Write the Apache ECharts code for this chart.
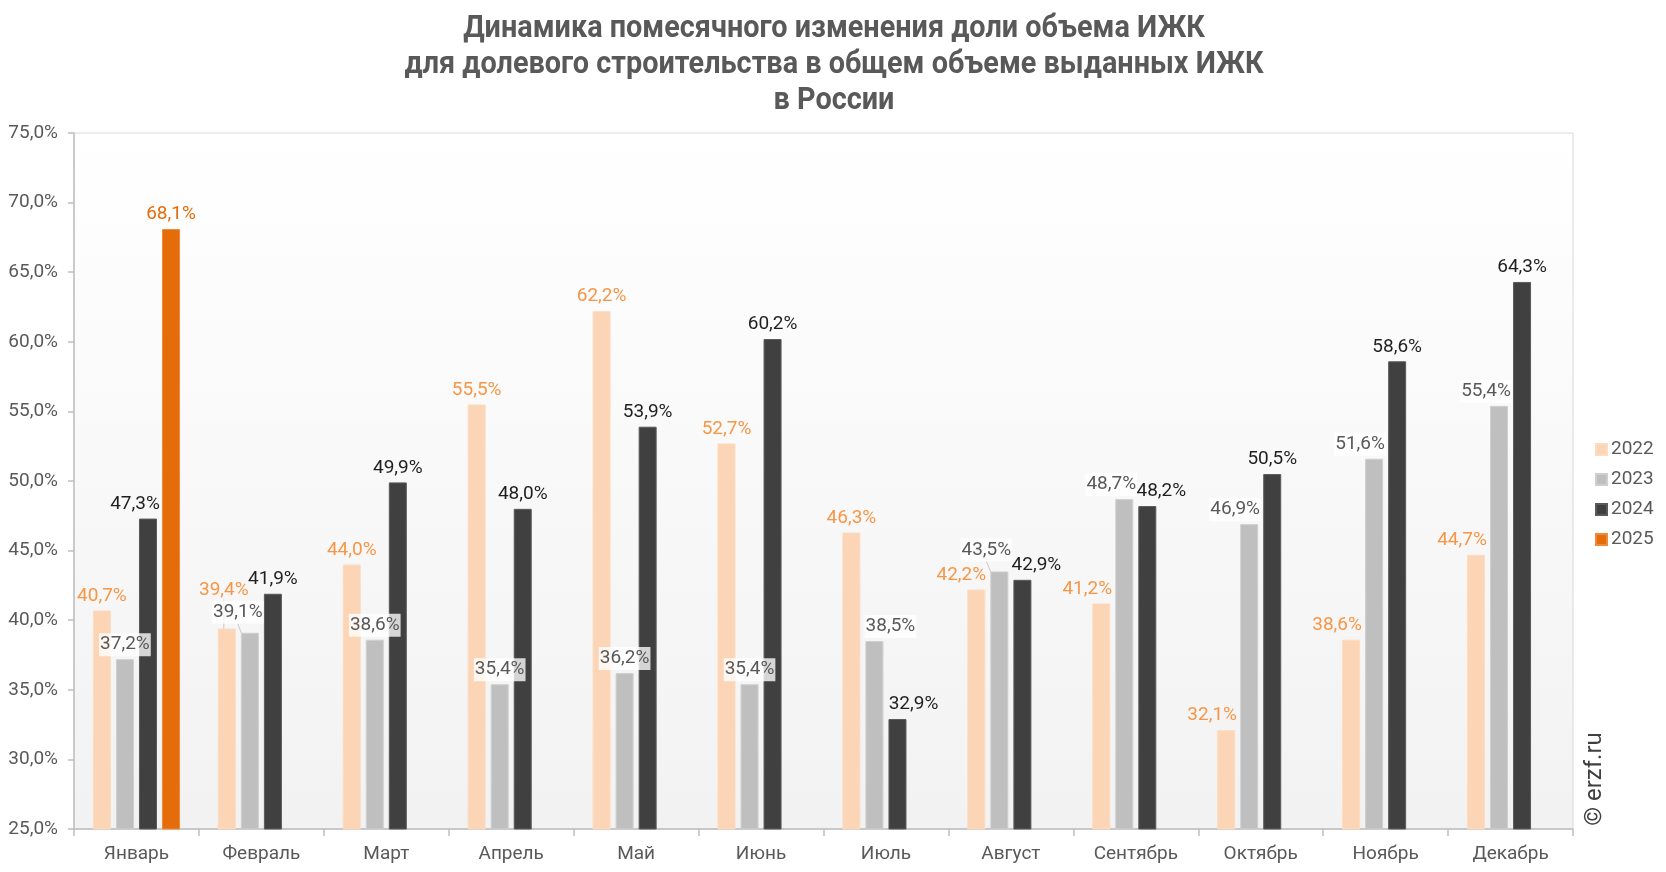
<!DOCTYPE html>
<html>
<head>
<meta charset="utf-8">
<script src="https://cdn.jsdelivr.net/npm/echarts@6/dist/echarts.min.js"></script>
<style>
html,body{margin:0;padding:0;background:#fff;}
#chart{width:1666px;height:872px;}
</style>
</head>
<body>
<div id="chart"></div>
<script>
// ---- data ----
const titleLines = ['Динамика помесячного изменения доли объема ИЖК', 'для долевого строительства в общем объеме выданных ИЖК', 'в России'];
const months = ['Январь','Февраль','Март','Апрель','Май','Июнь','Июль','Август','Сентябрь','Октябрь','Ноябрь','Декабрь'];
const seriesNames = ['2022','2023','2024','2025'];
const v2022 = [40.7, 39.4, 44.0, 55.5, 62.2, 52.7, 46.3, 42.2, 41.2, 32.1, 38.6, 44.7];
const v2023 = [37.2, 39.1, 38.6, 35.4, 36.2, 35.4, 38.5, 43.5, 48.7, 46.9, 51.6, 55.4];
const v2024 = [47.3, 41.9, 49.9, 48.0, 53.9, 60.2, 32.9, 42.9, 48.2, 50.5, 58.6, 64.3];
const v2025 = [68.1, null, null, null, null, null, null, null, null, null, null, null];
const yTicks = {min: 25, max: 75, interval: 5};

// ---- label placement (styling only) ----
const shiftX = [
  [0,0,0,0,0,0,0,-15,-14,-14,-14,-14],
  [0,0,0,0,0,0,16,0,-13,-14,-14,-13],
  [-13,0,0,0,0,0,16,14,14,0,0,0],
  [0,0,0,0,0,0,0,0,0,0,0,0]
];
const leaderMoves = {'0-1': [-3,-24], '1-1': [-12,-6], '1-7': [-13,-7]};

const barColors = ['#FBD5B5','#BFBFBF','#404040','#E46C0A'];
const borderColors = ['#FCDCC2','#CFCFCF','#5A5A5A','#F08A3A'];
const labelColors = ['#F79646','#595959','#1F1F1F','#E46C0A'];

const fmt = v => v.toFixed(1).replace('.', ',') + '%';
const allValues = [v2022, v2023, v2024, v2025];

const series = allValues.map((vals, si) => ({
  name: seriesNames[si],
  type: 'bar',
  barWidth: 18,
  barGap: '28%',
  itemStyle: {color: barColors[si], borderColor: borderColors[si], borderWidth: 1},
  label: {
    show: true,
    position: 'top',
    distance: si === 1 ? 3 : 5,
    formatter: p => fmt(p.value),
    color: labelColors[si],
    fontFamily: 'Roboto',
    fontSize: 19,
    backgroundColor: si === 1 ? 'rgba(255,255,255,0.78)' : 'transparent',
    padding: si === 1 ? [2,1] : 0
  },
  labelLine: {show: false, lineStyle: {color: '#C8C8C8', width: 1}},
  labelLayout: p => {
    const m = leaderMoves[si + '-' + p.dataIndex] || [0, 0];
    return {dx: shiftX[si][p.dataIndex] + m[0], dy: m[1]};
  },
  data: vals.map((v, i) => v == null ? null : ({
    value: v,
    labelLine: {show: !!leaderMoves[si + '-' + i]}
  })),
  animation: false
}));

const chart = echarts.init(document.getElementById('chart'), null, {renderer: 'canvas'});
chart.setOption({
  animation: false,
  legend: {
    orient: 'vertical',
    left: 1590,
    top: 435,
    itemWidth: 11,
    itemHeight: 11,
    itemGap: 11,
    icon: 'rect',
    data: seriesNames,
    textStyle: {fontFamily: 'Roboto', fontSize: 19, color: '#595959', padding: [0,0,0,-1]}
  },
  grid: {
    left: 74, right: 93, top: 133, bottom: 43,
    show: true,
    borderColor: '#D9D9D9',
    borderWidth: 1,
    backgroundColor: {type: 'linear', x: 0, y: 0, x2: 0, y2: 1,
      colorStops: [{offset: 0, color: '#FFFFFF'}, {offset: 1, color: '#F2F2F2'}]}
  },
  xAxis: {
    type: 'category',
    data: months,
    axisLine: {lineStyle: {color: '#BFBFBF', width: 1.5}},
    axisTick: {show: true, length: 7, lineStyle: {color: '#BFBFBF', width: 1.5}},
    axisLabel: {fontFamily: 'Roboto', fontSize: 19, color: '#595959', margin: 16}
  },
  yAxis: {
    type: 'value',
    min: yTicks.min, max: yTicks.max, interval: yTicks.interval,
    axisLine: {show: true, lineStyle: {color: '#BFBFBF', width: 1.5}},
    axisTick: {show: true, length: 6, lineStyle: {color: '#BFBFBF', width: 1.5}},
    splitLine: {show: false},
    axisLabel: {fontFamily: 'Roboto', fontSize: 19, color: '#595959', margin: 16,
      formatter: v => fmt(v)}
  },
  graphic: [
    {
      type: 'text',
      x: 834, y: 11,
      scaleX: 0.93,
      style: {text: titleLines.join('\n'), fontFamily: 'Roboto', fontWeight: 'bold', fontSize: 31,
        lineHeight: 36, fill: '#595959', textAlign: 'center', textVerticalAlign: 'top'}
    },
    {
      type: 'text',
      x: 1595, y: 779,
      rotation: Math.PI / 2,
      style: {text: '© erzf.ru', fontFamily: 'Roboto', fontSize: 24, fill: '#404040',
        textAlign: 'center', textVerticalAlign: 'middle'}
    }
  ],
  series: series
});
</script>
</body>
</html>
